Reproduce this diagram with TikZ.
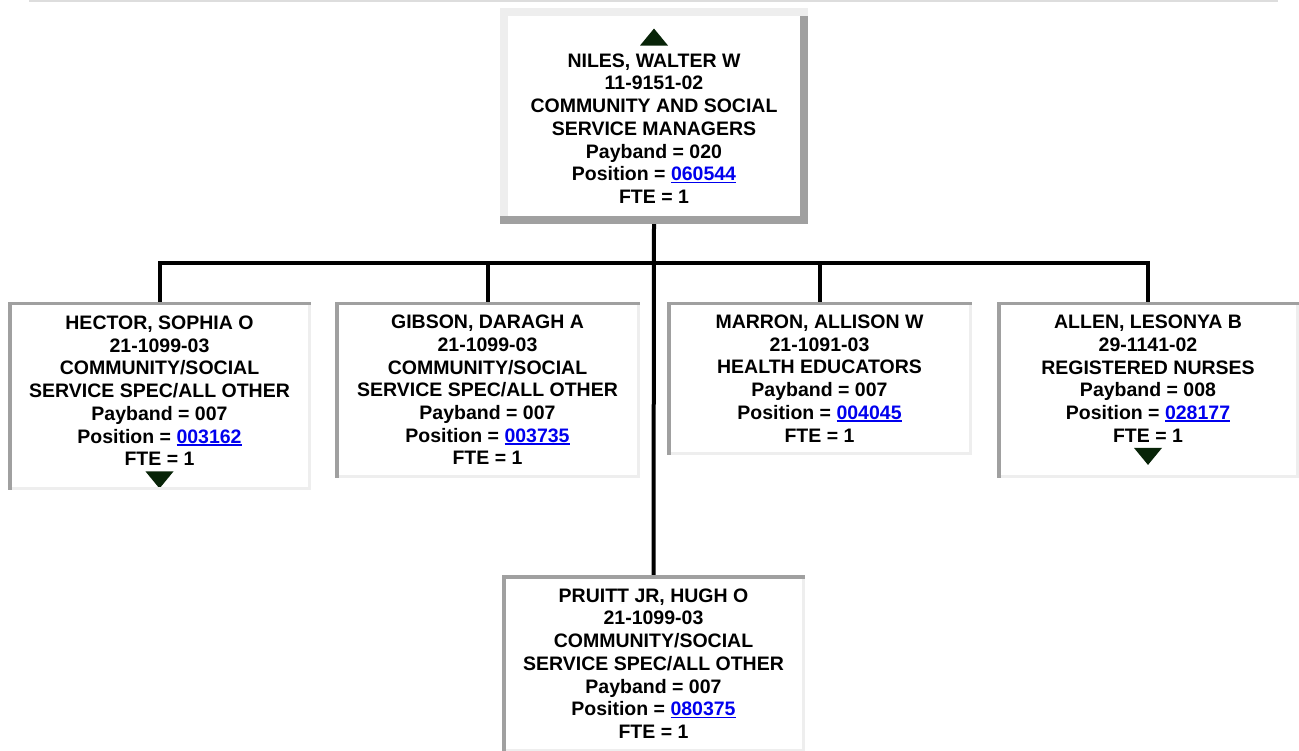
\documentclass[tikz,border=0pt]{standalone}
\usepackage{fontspec}
\setmainfont{Liberation Sans}
\usepackage{xcolor}
\usetikzlibrary{calc}

\definecolor{linkblue}{RGB}{0,0,238}
\definecolor{bdlight}{RGB}{238,238,238}
\definecolor{bddark}{RGB}{160,160,160}
\definecolor{tri}{RGB}{8,36,8}
\definecolor{hrgray}{RGB}{221,221,221}

\newcommand{\poslink}[1]{{\color{linkblue}\setbox0=\hbox{#1}\rlap{\rule[-2.5pt]{\wd0}{1.6pt}}\box0}}
\newcommand{\tiup}{\tikz[baseline=1pt]\fill[tri] (0pt,0pt) -- (28pt,0pt) -- (14pt,17pt) -- cycle;}
\newcommand{\tidown}{\tikz[baseline=0pt]\fill[tri] (0pt,17pt) -- (28pt,17pt) -- (14pt,0pt) -- cycle;}

\begin{document}
\begin{tikzpicture}[
    x=1pt, y=-1pt,
    every node/.style={font=\fontsize{19.5}{22.7}\selectfont\bfseries},
    card/.style={rectangle, fill=white, inner sep=0pt, outer sep=0pt, align=center},
    wire/.style={line width=4pt, black},
]
\useasboundingbox (0,0) rectangle (1299,751);
\draw[hrgray, line width=2pt] (29,1) -- (1278,1);

\node[card, minimum width=308pt, minimum height=216pt] (niles) at (654,116) {\tiup\\NILES, WALTER W\\11-9151-02\\COMMUNITY AND SOCIAL\\SERVICE MANAGERS\\Payband = 020\\Position = \poslink{060544}\\FTE = 1};
\node[card, minimum width=303pt, minimum height=188pt] (hector) at (159.5,396) {\rule{0pt}{26pt}HECTOR, SOPHIA O\\21-1099-03\\COMMUNITY/SOCIAL\\SERVICE SPEC/ALL OTHER\\Payband = 007\\Position = \poslink{003162}\\FTE = 1\\\tidown};
\node[card, minimum width=305pt, minimum height=176pt] (gibson) at (487.5,390) {GIBSON, DARAGH A\\21-1099-03\\COMMUNITY/SOCIAL\\SERVICE SPEC/ALL OTHER\\Payband = 007\\Position = \poslink{003735}\\FTE = 1};
\node[card, minimum width=305pt, minimum height=153pt] (marron) at (819.5,378.5) {MARRON, ALLISON W\\21-1091-03\\HEALTH EDUCATORS\\Payband = 007\\Position = \poslink{004045}\\FTE = 1};
\node[card, minimum width=302pt, minimum height=176pt] (allen) at (1148,390) {ALLEN, LESONYA B\\29-1141-02\\REGISTERED NURSES\\Payband = 008\\Position = \poslink{028177}\\FTE = 1\\\tidown};
\node[card, minimum width=303pt, minimum height=177pt] (pruitt) at (653.5,663.5) {PRUITT JR, HUGH O\\21-1099-03\\COMMUNITY/SOCIAL\\SERVICE SPEC/ALL OTHER\\Payband = 007\\Position = \poslink{080375}\\FTE = 1};

\coordinate (bar) at (654,263);
\draw[wire] (niles.south) -- (pruitt.north);
\draw[wire] (hector.north) |- (bar) -| (allen.north);
\draw[wire] (gibson.north) -- (gibson.north |- bar);
\draw[wire] (marron.north) -- (marron.north |- bar);

\fill[bdlight] (niles.north west) rectangle ($(niles.north east)+(0,8)$);
\fill[bdlight] (niles.north west) rectangle ($(niles.south west)+(8,0)$);
\fill[bddark] ($(niles.north east)+(-8,8)$) rectangle (niles.south east);
\fill[bddark] ($(niles.south west)+(0,-8)$) rectangle (niles.south east);

\foreach \n in {hector,gibson,marron,allen,pruitt} {
  \fill[bddark] (\n.north west) rectangle ($(\n.north east)+(0,3.5)$);
  \fill[bddark] (\n.north west) rectangle ($(\n.south west)+(3.5,0)$);
  \fill[bdlight] ($(\n.north east)+(-3,3.5)$) rectangle (\n.south east);
  \fill[bdlight] ($(\n.south west)+(3.5,-3)$) rectangle (\n.south east);
}
\end{tikzpicture}
\end{document}
